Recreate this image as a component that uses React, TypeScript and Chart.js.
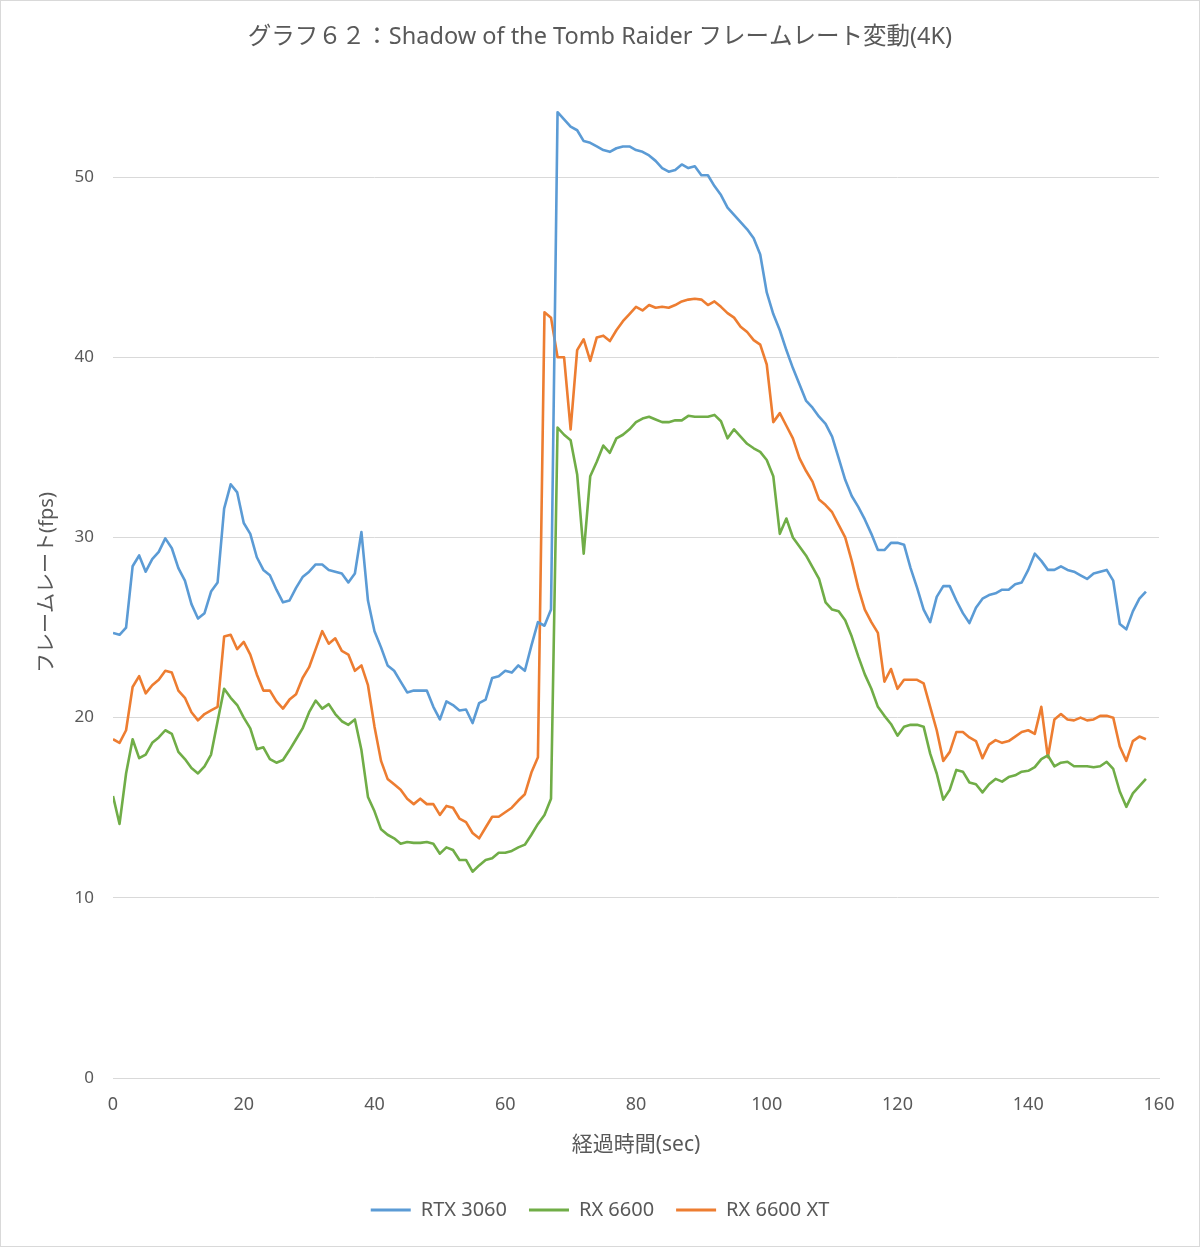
import { useEffect, useRef } from "react";
import { Chart, registerables } from "chart.js";

Chart.register(...registerables);

const FONT = "'Noto Sans', 'Noto Sans CJK JP', sans-serif";
const TEXT = "#595959";
const GRID = "#d9d9d9";

const TITLE = "グラフ６２：Shadow of the Tomb Raider フレームレート変動(4K)";
const X_TITLE = "経過時間(sec)";
const Y_TITLE = "フレームレート(fps)";
const SERIES_NAMES = ["RTX 3060", "RX 6600", "RX 6600 XT"];
const SERIES_COLORS = ["#5B9BD5", "#70AD47", "#ED7D31"];

// elapsed time (sec), one sample per second
const seconds = Array.from({ length: 159 }, (_, i) => i);

const rtx3060 = [
  24.7, 24.6, 25.0, 28.4, 29.0, 28.1, 28.8, 29.2, 29.95, 29.4,
  28.3, 27.6, 26.3, 25.5, 25.8, 27.0, 27.5, 31.6, 32.95, 32.5,
  30.8, 30.2, 28.9, 28.2, 27.9, 27.1, 26.4, 26.5, 27.2, 27.8,
  28.1, 28.5, 28.5, 28.2, 28.1, 28.0, 27.5, 28.0, 30.3, 26.5,
  24.8, 23.9, 22.9, 22.6, 22.0, 21.4, 21.5, 21.5, 21.5, 20.6,
  19.9, 20.9, 20.7, 20.4, 20.45, 19.7, 20.8, 21.0, 22.2, 22.3,
  22.6, 22.5, 22.9, 22.6, 24.0, 25.3, 25.1, 26.0, 53.6, 53.2,
  52.8, 52.6, 52.0, 51.9, 51.7, 51.5, 51.4, 51.6, 51.7, 51.7,
  51.5, 51.4, 51.2, 50.9, 50.5, 50.3, 50.4, 50.7, 50.5, 50.6,
  50.1, 50.1, 49.5, 49.0, 48.3, 47.9, 47.5, 47.1, 46.6, 45.7,
  43.6, 42.4, 41.5, 40.4, 39.4, 38.5, 37.6, 37.2, 36.7, 36.3,
  35.6, 34.4, 33.2, 32.3, 31.7, 31.0, 30.2, 29.3, 29.3, 29.7,
  29.7, 29.6, 28.3, 27.2, 26.0, 25.3, 26.7, 27.3, 27.3, 26.5,
  25.8, 25.25, 26.1, 26.6, 26.8, 26.9, 27.1, 27.1, 27.4, 27.5,
  28.2, 29.1, 28.7, 28.2, 28.2, 28.4, 28.2, 28.1, 27.9, 27.7,
  28.0, 28.1, 28.2, 27.6, 25.2, 24.9, 25.9, 26.6, 27.0,
];

const rx6600 = [
  15.65, 14.1, 16.9, 18.8, 17.75, 17.95, 18.6, 18.9, 19.3, 19.1,
  18.1, 17.7, 17.2, 16.9, 17.3, 17.95, 19.8, 21.6, 21.1, 20.7,
  20.0, 19.4, 18.25, 18.35, 17.7, 17.5, 17.65, 18.2, 18.8, 19.4,
  20.3, 20.95, 20.5, 20.75, 20.2, 19.8, 19.6, 19.9, 18.2, 15.6,
  14.8, 13.8, 13.5, 13.3, 13.0, 13.1, 13.05, 13.05, 13.1, 13.0,
  12.45, 12.8, 12.65, 12.1, 12.1, 11.45, 11.8, 12.1, 12.2, 12.5,
  12.5, 12.6, 12.8, 12.95, 13.5, 14.1, 14.6, 15.5, 36.1, 35.7,
  35.4, 33.5, 29.1, 33.4, 34.2, 35.1, 34.7, 35.5, 35.7, 36.0,
  36.4, 36.6, 36.7, 36.55, 36.4, 36.4, 36.5, 36.5, 36.75, 36.7,
  36.7, 36.7, 36.8, 36.45, 35.5, 36.0, 35.6, 35.2, 34.95, 34.75,
  34.3, 33.4, 30.2, 31.05, 30.0, 29.5, 29.0, 28.35, 27.7, 26.4,
  26.0, 25.9, 25.4, 24.5, 23.4, 22.4, 21.6, 20.6, 20.1, 19.65,
  19.0, 19.5, 19.6, 19.6, 19.5, 18.0, 16.9, 15.45, 16.0, 17.1,
  17.0, 16.4, 16.3, 15.85, 16.3, 16.6, 16.45, 16.7, 16.8, 17.0,
  17.05, 17.25, 17.7, 17.9, 17.3, 17.5, 17.55, 17.3, 17.3, 17.3,
  17.25, 17.3, 17.55, 17.15, 15.9, 15.05, 15.8, 16.2, 16.6,
];

const rx6600xt = [
  18.8, 18.6, 19.3, 21.7, 22.3, 21.35, 21.8, 22.1, 22.6, 22.5,
  21.5, 21.1, 20.3, 19.85, 20.2, 20.4, 20.6, 24.5, 24.6, 23.8,
  24.2, 23.5, 22.4, 21.5, 21.5, 20.9, 20.5, 21.0, 21.3, 22.2,
  22.8, 23.8, 24.8, 24.1, 24.4, 23.7, 23.5, 22.6, 22.9, 21.8,
  19.5, 17.6, 16.6, 16.3, 16.0, 15.5, 15.2, 15.5, 15.2, 15.2,
  14.6, 15.1, 15.0, 14.4, 14.2, 13.6, 13.3, 13.9, 14.5, 14.5,
  14.75, 15.0, 15.4, 15.75, 16.95, 17.8, 42.5, 42.2, 40.0, 40.0,
  36.0, 40.4, 41.0, 39.8, 41.1, 41.2, 40.9, 41.5, 42.0, 42.4,
  42.8, 42.6, 42.9, 42.75, 42.8, 42.75, 42.9, 43.1, 43.2, 43.25,
  43.2, 42.9, 43.1, 42.8, 42.45, 42.2, 41.7, 41.4, 40.95, 40.7,
  39.6, 36.4, 36.9, 36.2, 35.5, 34.4, 33.7, 33.1, 32.1, 31.8,
  31.4, 30.7, 30.0, 28.7, 27.2, 26.0, 25.3, 24.7, 22.0, 22.7,
  21.6, 22.1, 22.1, 22.1, 21.9, 20.6, 19.3, 17.6, 18.1, 19.2,
  19.2, 18.9, 18.7, 17.75, 18.5, 18.75, 18.6, 18.7, 18.95, 19.2,
  19.3, 19.1, 20.6, 17.8, 19.9, 20.2, 19.9, 19.85, 20.0, 19.85,
  19.9, 20.1, 20.1, 20.0, 18.4, 17.6, 18.7, 18.95, 18.8,
];

const SERIES_VALUES = [rtx3060, rx6600, rx6600xt];

export default function App() {
  const ref = useRef<HTMLCanvasElement>(null);

  useEffect(() => {
    document.body.style.margin = "0";
    const canvas = ref.current;
    if (!canvas) return;

    const toPoints = (vals: number[]) => vals.map((v, i) => ({ x: seconds[i], y: v }));

    const chart = new Chart(canvas, {
      type: "line",
      data: {
        datasets: SERIES_NAMES.map((name, k) => ({
          label: name,
          data: toPoints(SERIES_VALUES[k]),
          borderColor: SERIES_COLORS[k],
          backgroundColor: SERIES_COLORS[k],
          borderWidth: 2.6,
          pointRadius: 0,
          pointHoverRadius: 0,
          tension: 0,
          borderJoinStyle: "round" as const,
          fill: false,
          yAxisID: "y",
        })),
      },
      options: {
        animation: false,
        responsive: false,
        maintainAspectRatio: false,
        layout: { padding: { left: 0, right: 0, top: 0, bottom: 17 } },
        plugins: {
          title: {
            display: true,
            text: TITLE,
            color: TEXT,
            font: { family: FONT, size: 23.5, weight: "normal" },
            padding: { top: 23, bottom: 35.8 },
          },
          legend: {
            position: "bottom",
            labels: {
              boxWidth: 40,
              boxHeight: 3,
              padding: 22,
              color: TEXT,
              font: { family: FONT, size: 20 },
              generateLabels: (c: any) => {
                const items = (Chart.defaults.plugins.legend.labels as any).generateLabels(c);
                return items.map((it: any) => ({ ...it, lineWidth: 0, fillStyle: it.strokeStyle }));
              },
            },
          },
          tooltip: { enabled: false },
        },
        scales: {
          x: {
            type: "linear",
            min: 0,
            max: 160,
            ticks: {
              stepSize: 20,
              padding: 16,
              color: TEXT,
              maxRotation: 0,
              font: { family: FONT, size: 18 },
            },
            grid: { display: false, drawTicks: false },
            border: { display: true, color: GRID, width: 1 },
            title: {
              display: true,
              text: X_TITLE,
              color: TEXT,
              font: { family: FONT, size: 21 },
              padding: { top: 0, bottom: 20.4 },
            },
            afterFit: (s: any) => {
              s.height = 100;
            },
          },
          y: {
            type: "linear",
            position: "left",
            min: 0,
            max: 55,
            ticks: {
              stepSize: 10,
              padding: 19,
              color: TEXT,
              font: { family: FONT, size: 17 },
            },
            afterBuildTicks: (s: any) => {
              s.ticks = s.ticks.filter((t: any) => t.value % 10 === 0);
            },
            grid: { color: GRID, lineWidth: 1, drawTicks: false },
            border: { display: false },
            title: {
              display: true,
              text: Y_TITLE,
              color: TEXT,
              font: { family: FONT, size: 20 },
              padding: { top: 35, bottom: 0 },
            },
            afterFit: (s: any) => {
              s.width = 113;
            },
          },
          yRight: {
            type: "linear",
            position: "right",
            display: true,
            min: 0,
            max: 55,
            ticks: { display: false },
            grid: { display: false, drawTicks: false },
            border: { display: false },
            afterFit: (s: any) => {
              s.width = 41;
            },
          },
        },
      },
    });

    return () => chart.destroy();
  }, []);

  return (
    <div style={{ position: "relative", width: 1200, height: 1247, background: "#ffffff" }}>
      <canvas
        ref={ref}
        width={1200}
        height={1247}
        style={{ position: "absolute", left: 0, top: 0, width: 1200, height: 1247 }}
      />
      <div
        style={{
          position: "absolute",
          left: 0,
          top: 0,
          width: 1200,
          height: 1247,
          boxSizing: "border-box",
          border: "1px solid #d9d9d9",
          pointerEvents: "none",
        }}
      />
    </div>
  );
}
